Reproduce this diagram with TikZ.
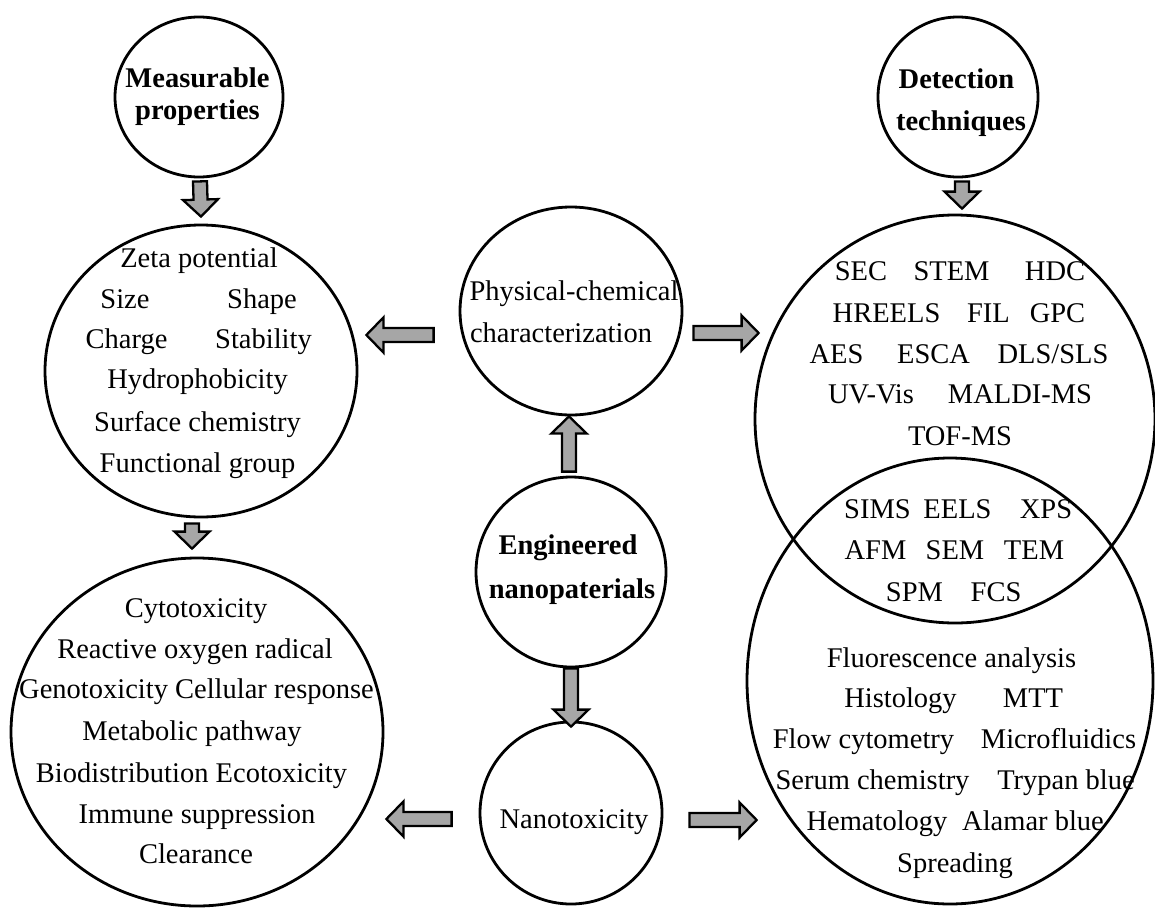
\documentclass[tikz,border=0pt]{standalone}
\usepackage{fontspec}
\setmainfont{Liberation Serif}
\usetikzlibrary{shapes.geometric,calc}
\definecolor{arrowfill}{RGB}{166,166,166}
\newcommand{\bahead}{17pt}
\newcommand{\bashaft}{7pt}
\newcommand{\bawide}{17.5pt}
\tikzset{
  ring/.style={ellipse, draw=black, line width=2.8pt, inner sep=0pt},
  txt/.style={font=\fontsize{28.5}{34}\selectfont, inner sep=0pt, anchor=base},
  ttl/.style={font=\fontsize{28.5}{34}\selectfont\bfseries, inner sep=0pt, anchor=base},
  blockarrow/.style={draw=black, line width=2.3pt, fill=arrowfill, line join=miter,
    to path={
      coordinate (bah) at ($(\tikztotarget)!\bahead!(\tikztostart)$)
      ($(\tikztostart)!\bashaft!90:(\tikztotarget)$)
      -- ($(bah)!\bashaft!-90:(\tikztostart)$)
      -- ($(bah)!\bawide!-90:(\tikztostart)$)
      -- (\tikztotarget)
      -- ($(bah)!\bawide!90:(\tikztostart)$)
      -- ($(bah)!\bashaft!90:(\tikztostart)$)
      -- ($(\tikztostart)!\bashaft!-90:(\tikztotarget)$)
      -- cycle
    }}
}
\begin{document}
\begin{tikzpicture}[x=1pt,y=-1pt]
\useasboundingbox (0,0) rectangle (1155,907);
% circles
\node[ring, minimum width=168pt, minimum height=160pt] (meas) at (199,97) {};
\node[ring, minimum width=160pt, minimum height=160pt] (det) at (958,97) {};
\node[ring, minimum width=312pt, minimum height=292pt] (props) at (201,371) {};
\node[ring, minimum width=372pt, minimum height=348pt] (tox) at (197,732) {};
\node[ring, minimum width=222pt, minimum height=208pt] (phys) at (571,311) {};
\node[ring, minimum width=190pt, minimum height=190pt] (eng) at (571,572) {};
\node[ring, minimum width=182pt, minimum height=182pt] (nano) at (571,813) {};
\node[ring, minimum width=400pt, minimum height=408pt] (techs) at (955,419) {};
\node[ring, minimum width=406pt, minimum height=446pt] (bio) at (950,681) {};

% titles
\node[ttl] (tm1) at (197.5,87) {Measurable};
\node[ttl] (tm2) at (197.5,119) {properties};
\node[ttl] (td1) at (956.5,88) {Detection};
\node[ttl] (td2) at (961,130) {techniques};
\node[ttl] (te1) at (568,554) {Engineered};
\node[ttl] (te2) at (572,598) {nanopaterials};
\node[txt] (tp1) at (574,300) {Physical-chemical};
\node[txt] (tp2) at (561,342) {characterization};
\node[txt] (tn) at (574,828) {Nanotoxicity};

% left upper circle texts
\node[txt] (l1) at (199,267) {Zeta potential};
\node[txt] (l2a) at (125,308) {Size};
\node[txt] (l2b) at (262,308) {Shape};
\node[txt] (l3a) at (126.5,348) {Charge};
\node[txt] (l3b) at (263.5,348) {Stability};
\node[txt] (l4) at (197.5,388) {Hydrophobicity};
\node[txt] (l5) at (197.5,431) {Surface chemistry};
\node[txt] (l6) at (197.5,472) {Functional group};

% left lower circle texts
\node[txt] (m1) at (196,617) {Cytotoxicity};
\node[txt] (m2) at (195,658) {Reactive oxygen radical};
\node[txt] (m3) at (196.5,698) {Genotoxicity Cellular response};
\node[txt] (m4) at (192,740) {Metabolic pathway};
\node[txt] (m5) at (191.5,782) {Biodistribution Ecotoxicity};
\node[txt] (m6) at (197,823) {Immune suppression};
\node[txt] (m7) at (196,863) {Clearance};

% right upper circle texts
\node[txt] (r1a) at (861,280) {SEC};
\node[txt] (r1b) at (951.5,280) {STEM};
\node[txt] (r1c) at (1055,280) {HDC};
\node[txt] (r2a) at (886.5,322) {HREELS};
\node[txt] (r2b) at (988.5,322) {FIL};
\node[txt] (r2c) at (1057.5,322) {GPC};
\node[txt] (r3a) at (836.5,363) {AES};
\node[txt] (r3b) at (933.5,363) {ESCA};
\node[txt] (r3c) at (1053,363) {DLS/SLS};
\node[txt] (r4a) at (871,403) {UV-Vis};
\node[txt] (r4b) at (1020,403) {MALDI-MS};
\node[txt] (r5) at (960,445) {TOF-MS};

% overlap texts
\node[txt] (o1a) at (877.5,518) {SIMS};
\node[txt] (o1b) at (957.5,518) {EELS};
\node[txt] (o1c) at (1046,518) {XPS};
\node[txt] (o2a) at (875.5,559) {AFM};
\node[txt] (o2b) at (955,559) {SEM};
\node[txt] (o2c) at (1034,559) {TEM};
\node[txt] (o3a) at (914.5,601) {SPM};
\node[txt] (o3b) at (996,601) {FCS};

% right lower circle texts
\node[txt] (b1) at (951.5,667) {Fluorescence analysis};
\node[txt] (b2a) at (900.5,707) {Histology};
\node[txt] (b2b) at (1033,707) {MTT};
\node[txt] (b3a) at (863.5,748) {Flow cytometry};
\node[txt] (b3b) at (1058.5,748) {Microfluidics};
\node[txt] (b4a) at (872.5,789) {Serum chemistry};
\node[txt] (b4b) at (1066,789) {Trypan blue};
\node[txt] (b5a) at (877,830) {Hematology};
\node[txt] (b5b) at (1033,830) {Alamar blue};
\node[txt] (b6) at (955,872) {Spreading};

% arrow end points
\coordinate (a1s) at ($(meas.south)+(1,3)$);
\coordinate (a1t) at ($(props.north)+(0,-7)$);
\coordinate (a2s) at ($(props.south)+(-9,5)$);
\coordinate (a2t) at ($(tox.north)+(-5,-8)$);
\coordinate (a3s) at ($(det.south)+(4,3)$);
\coordinate (a3t) at ($(techs.north)+(7,-5)$);
\coordinate (a4s) at ($(eng.north)+(-2,-4)$);
\coordinate (a4t) at ($(phys.south)+(-2,0)$);
\coordinate (a5s) at ($(eng.south)+(0,0)$);
\coordinate (a5t) at ($(nano.north)+(0,6)$);
\coordinate (a6s) at ($(phys.west)+(-25,24)$);
\coordinate (a6t) at ($(props.east)+(8,-36)$);
\coordinate (a7s) at ($(phys.east)+(10,22)$);
\coordinate (a7t) at ($(techs.west)+(5,-86)$);
\coordinate (a8s) at ($(nano.west)+(-27,6)$);
\coordinate (a8t) at ($(tox.east)+(2,87)$);
\coordinate (a9s) at ($(nano.east)+(26,7)$);
\coordinate (a9t) at ($(bio.west)+(11,139)$);

\draw[blockarrow] (a1s) to (a1t);
\draw[blockarrow] (a2s) to (a2t);
\draw[blockarrow] (a3s) to (a3t);
\draw[blockarrow] (a4s) to (a4t);
\draw[blockarrow] (a5s) to (a5t);
\draw[blockarrow] (a6s) to (a6t);
\draw[blockarrow] (a7s) to (a7t);
\draw[blockarrow] (a8s) to (a8t);
\draw[blockarrow] (a9s) to (a9t);
\end{tikzpicture}
\end{document}
